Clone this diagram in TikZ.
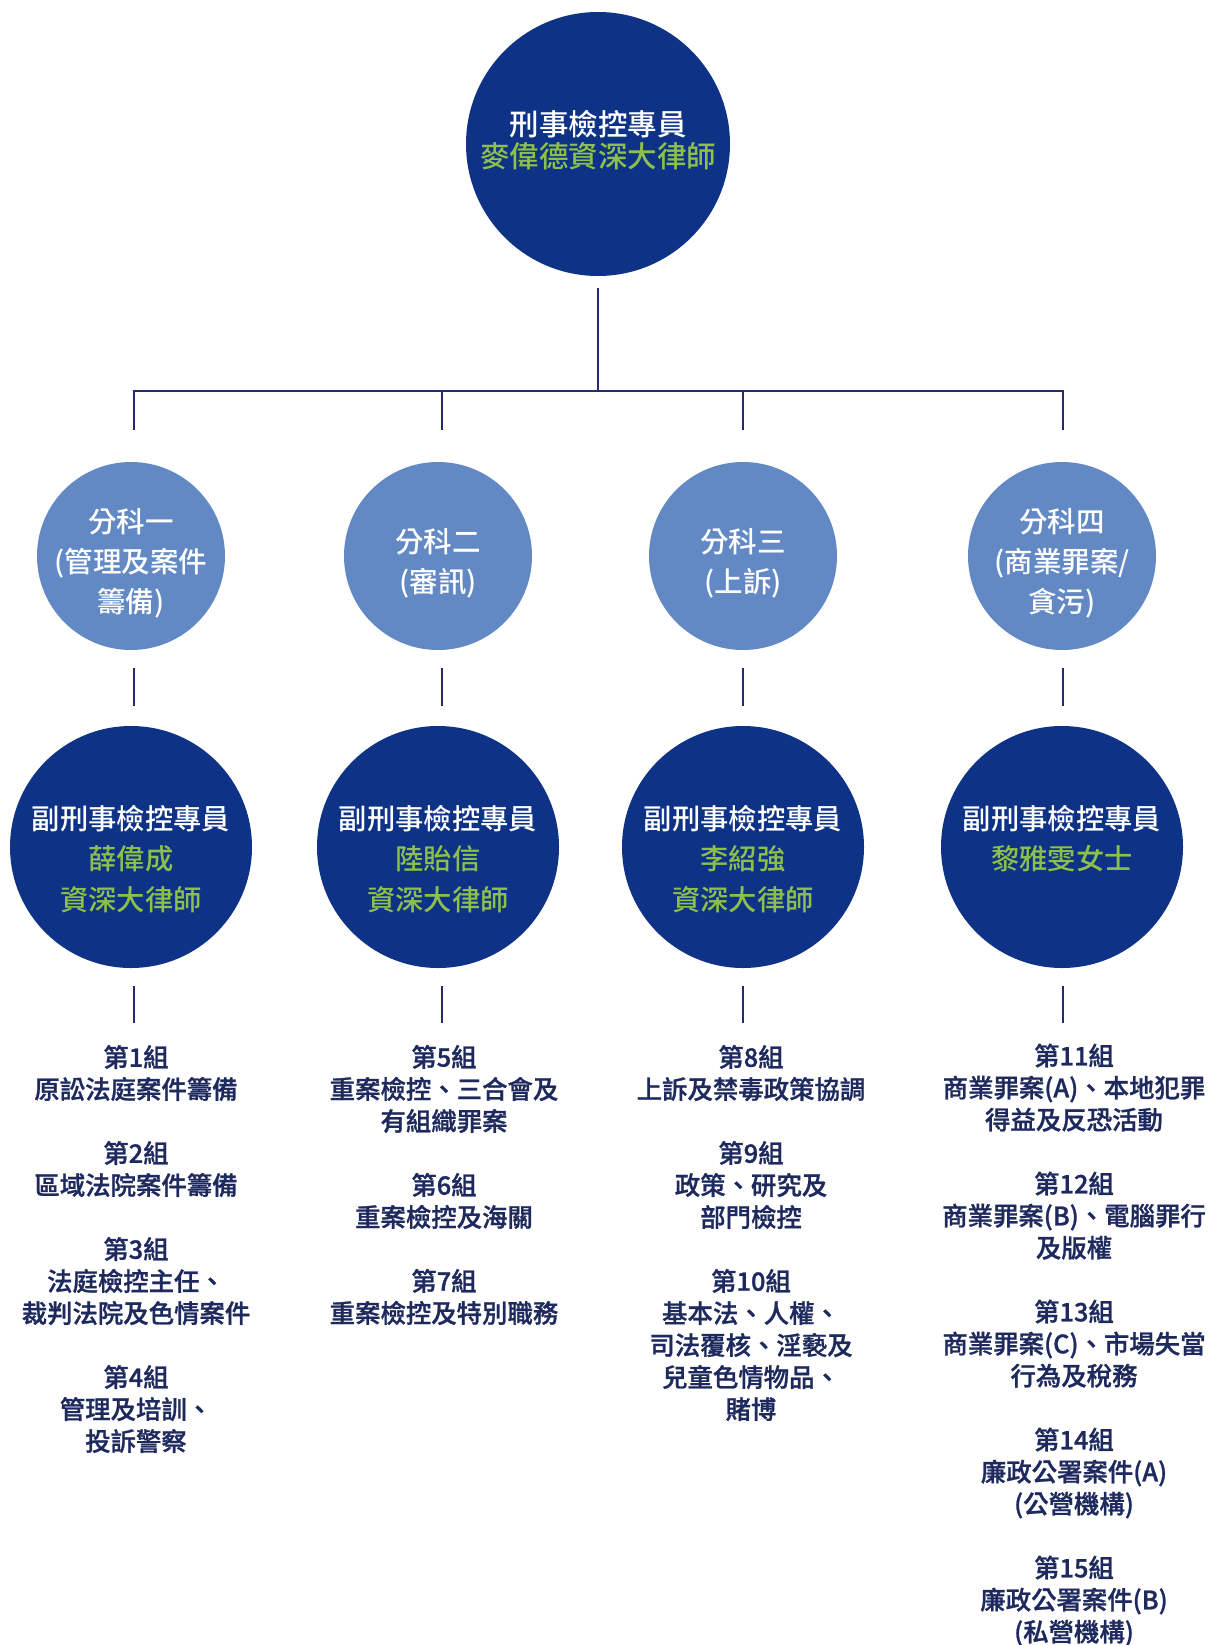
\documentclass[tikz,border=0pt]{standalone}
\usepackage{fontspec}
\setmainfont{Noto Sans CJK TC Medium}
\newfontfamily\groupfont{Noto Sans CJK TC Medium}[FakeBold=1]
\usetikzlibrary{calc}
\definecolor{navyfill}{HTML}{0E3386}
\definecolor{lightfill}{HTML}{6389C5}
\definecolor{greentext}{HTML}{8DC04A}
\definecolor{linecol}{HTML}{262B6E}
\definecolor{bodytext}{HTML}{1E2A5E}
\begin{document}
\begin{tikzpicture}[x=1pt,y=-1pt,
  conn/.style={draw=linecol, line width=2.2pt},
  headcircle/.style={circle, fill=navyfill, minimum size=264pt, inner sep=0pt},
  unitcircle/.style={circle, fill=lightfill, minimum size=188pt, inner sep=0pt},
  deputycircle/.style={circle, fill=navyfill, minimum size=242pt, inner sep=0pt},
  headtext/.style={align=center, text=white, inner sep=0pt, font=\fontsize{29.5}{32}\selectfont},
  unittext/.style={align=center, text=white, inner sep=0pt, font=\fontsize{28.5}{40}\selectfont},
  deputytext/.style={align=center, text=white, inner sep=0pt, font=\fontsize{28.3}{40.5}\selectfont},
  grouptext/.style={align=center, text=bodytext, inner sep=0pt, font=\groupfont\fontsize{25.4}{32}\selectfont}
]
\fill[white] (0,0) rectangle (1207,1645);
\useasboundingbox (0,0) rectangle (1207,1645);

% head
\node[headcircle] (head) at (598,144) {};
\node[headtext] (headlbl) at (598,140) {刑事檢控專員\\\textcolor{greentext}{麥偉德資深大律師}};

% bus
\coordinate (bus1) at (134,391);
\coordinate (bus2) at (442,391);
\coordinate (bus3) at (743,391);
\coordinate (bus4) at (1063,391);
\draw[conn, shorten <=12pt] (head.south) -- (head.south |- bus1);
\draw[conn] ([xshift=-1.1pt]bus1) -- ([xshift=1.1pt]bus4);

% unit circles
\node[unitcircle] (u1) at (131,556) {};
\node[unitcircle] (u2) at (438,556) {};
\node[unitcircle] (u3) at (743,556) {};
\node[unitcircle] (u4) at (1062,556) {};
\node[unittext] (u1lbl) at (131,563) {分科一\\(管理及案件\\籌備)};
\node[unittext] (u2lbl) at (438,563) {分科二\\(審訊)};
\node[unittext] (u3lbl) at (743,563) {分科三\\(上訴)};
\node[unittext] (u4lbl) at (1062,563) {分科四\\(商業罪案/\\貪污)};

\foreach \i in {1,2,3,4}{
  \draw[conn] (bus\i) -- ++(0,39);
}

% deputy circles
\node[deputycircle] (d1) at (131,847) {};
\node[deputycircle] (d2) at (438,847) {};
\node[deputycircle] (d3) at (743,847) {};
\node[deputycircle] (d4) at (1062,847) {};
\node[deputytext] (d1lbl) at (131,859) {副刑事檢控專員\\\textcolor{greentext}{薛偉成}\\\textcolor{greentext}{資深大律師}};
\node[deputytext] (d2lbl) at (438,859) {副刑事檢控專員\\\textcolor{greentext}{陸貽信}\\\textcolor{greentext}{資深大律師}};
\node[deputytext] (d3lbl) at (743,859) {副刑事檢控專員\\\textcolor{greentext}{李紹強}\\\textcolor{greentext}{資深大律師}};
\node[deputytext] (d4lbl) at (1062,838.5) {副刑事檢控專員\\\textcolor{greentext}{黎雅雯女士}};

% connectors unit -> deputy, deputy -> groups
\foreach \i/\x in {1/134,2/442,3/743,4/1063}{
  \draw[conn] (\x,668) -- (\x,706);
  \draw[conn] (\x,986) -- (\x,1023);
}

% group texts
\node[grouptext] (g1) at (136,1249) {第1組\\原訟法庭案件籌備\\[32pt]第2組\\區域法院案件籌備\\[32pt]第3組\\法庭檢控主任、\\裁判法院及色情案件\\[32pt]第4組\\管理及培訓、\\投訴警察};
\node[grouptext] (g2) at (444,1185) {第5組\\重案檢控、三合會及\\有組織罪案\\[32pt]第6組\\重案檢控及海關\\[32pt]第7組\\重案檢控及特別職務};
\node[grouptext] (g3) at (751,1233) {第8組\\上訴及禁毒政策協調\\[32pt]第9組\\政策、研究及\\部門檢控\\[32pt]第10組\\基本法、人權、\\司法覆核、淫褻及\\兒童色情物品、\\賭博};
\node[grouptext] (g4) at (1074,1345) {第11組\\商業罪案(A)、本地犯罪\\得益及反恐活動\\[32pt]第12組\\商業罪案(B)、電腦罪行\\及版權\\[32pt]第13組\\商業罪案(C)、市場失當\\行為及稅務\\[32pt]第14組\\廉政公署案件(A)\\(公營機構)\\[32pt]第15組\\廉政公署案件(B)\\(私營機構)};
\end{tikzpicture}
\end{document}
